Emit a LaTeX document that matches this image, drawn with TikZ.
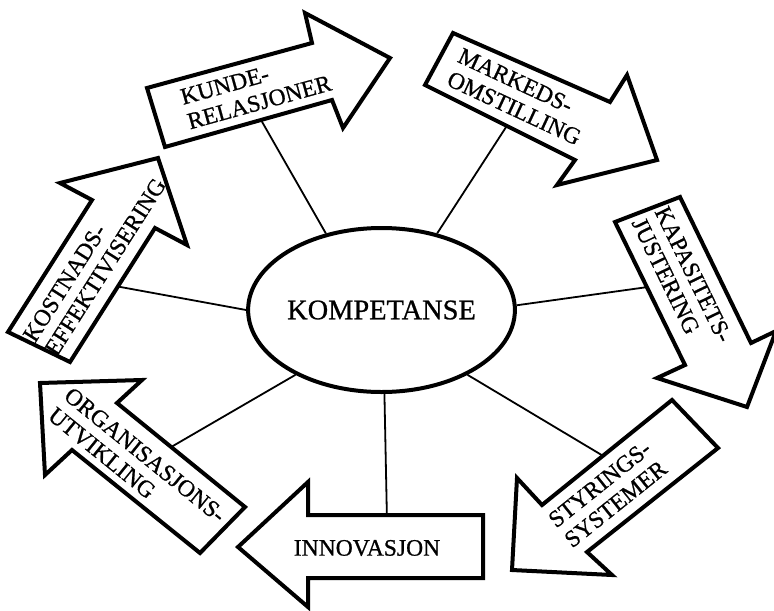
\documentclass[tikz,border=0pt]{standalone}
\usepackage{fontspec}
\setmainfont{Liberation Serif}
\newfontfamily\heavyserif[FakeBold=0.8]{Liberation Serif}
\usetikzlibrary{shapes.geometric}
\begin{document}
\begin{tikzpicture}[x=0.5pt,y=-0.5pt,
  blockarrow/.style={draw=black, line width=2pt, fill=white, line join=miter},
  conn/.style={draw=black, line width=0.9pt},
  lbl/.style={font=\heavyserif\fontsize{11.8}{12.8}\selectfont, align=left, inner sep=0pt},
  core/.style={ellipse, draw=black, line width=2pt, minimum width=113.5pt,
    minimum height=82pt, inner sep=0pt, font=\heavyserif\fontsize{14.2}{15}\selectfont}
]
\useasboundingbox (0,0) rectangle (774,610);

% central ellipse
\node[core] (komp) at (381.5,310) {KOMPETANSE};

% free ends of the spokes, just inside each arrow
\coordinate (eKunde)  at (257,113);
\coordinate (eMarked) at (510,121);
\coordinate (eKapas)  at (655,286);
\coordinate (eStyr)   at (610,460);
\coordinate (eInnov)  at (387,522);
\coordinate (eOrg)    at (166,450);
\coordinate (eKost)   at (115,286);

% spokes
\draw[conn] (komp.126) -- (eKunde);
\draw[conn] (komp.54)  -- (eMarked);
\draw[conn] (komp.2)   -- (eKapas);
\draw[conn] (komp.-37) -- (eStyr);
\draw[conn] (komp.-88) -- (eInnov);
\draw[conn] (komp.217) -- (eOrg);
\draw[conn] (komp.180) -- (eKost);

% block arrows
\draw[blockarrow] (147,88) -- (312,43) -- (305,13) -- (390,58) -- (343,128) -- (332,100) -- (165,147) -- cycle;
\draw[blockarrow] (453,33) -- (610,102) -- (627,75) -- (657,160) -- (557,185) -- (575,160) -- (425,85) -- cycle;
\draw[blockarrow] (680,197) -- (751,343) -- (776,331) -- (747,407) -- (657,378) -- (685,365) -- (615,222) -- cycle;
\draw[blockarrow] (672,400) -- (718,448) -- (587,552) -- (612,575) -- (512,570) -- (517,478) -- (542,505) -- cycle;
\draw[blockarrow] (483,515) -- (483,578) -- (308,578) -- (308,607) -- (238,547) -- (308,482) -- (308,515) -- cycle;
\draw[blockarrow] (40,383) -- (142,380) -- (117,403) -- (245,507) -- (200,553) -- (72,450) -- (45,475) -- cycle;
\draw[blockarrow] (8,332) -- (92,200) -- (60,183) -- (158,158) -- (187,245) -- (155,228) -- (70,362) -- cycle;

% labels
\node[lbl, rotate=15.5]  (tKunde)  at (256,90)     {KUNDE-\\RELASJONER};
\node[lbl, rotate=-25]   (tMarked) at (519.6,96.6) {MARKEDS-\\OMSTILLING};
\node[lbl, rotate=-64]   (tKapas)  at (682,280)    {KAPASITETS-\\JUSTERING};
\node[lbl, rotate=38.7]  (tStyr)   at (607.6,494)  {STYRINGS-\\SYSTEMER};
\node[lbl]               (tInnov)  at (367,548)    {INNOVASJON};
\node[lbl, rotate=-39]   (tOrg)    at (137,465)    {ORGANISASJONS-\\UTVIKLING};
\node[lbl, rotate=57.5]  (tKost)   at (94.5,260)   {KOSTNADS-\\EFFEKTIVISERING};
\end{tikzpicture}
\end{document}
